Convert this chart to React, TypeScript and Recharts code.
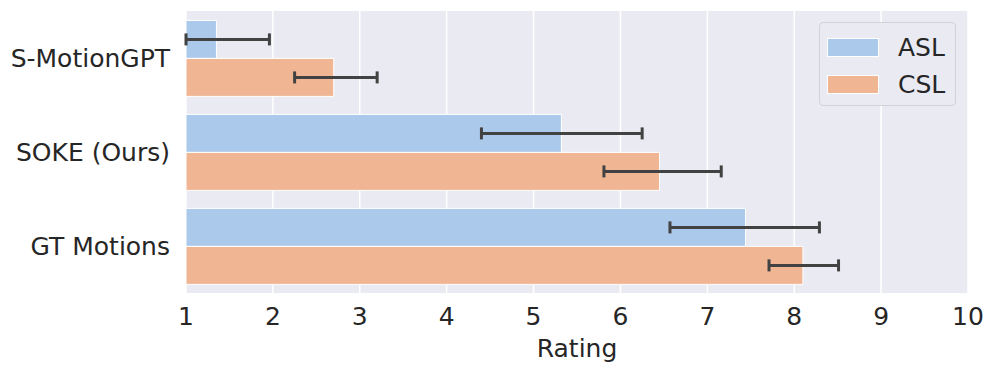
import { BarChart, Bar, XAxis, YAxis, CartesianGrid, ErrorBar } from "recharts";

const categories = ["S-MotionGPT", "SOKE (Ours)", "GT Motions"];
const aslMean = [1.35, 5.32, 7.44];
const aslLow = [1.0, 4.4, 6.57];
const aslHigh = [1.96, 6.25, 8.29];
const cslMean = [2.7, 6.45, 8.1];
const cslLow = [2.25, 5.81, 7.71];
const cslHigh = [3.2, 7.16, 8.51];
const xTicks = [1, 2, 3, 4, 5, 6, 7, 8, 9, 10];

const ASL_COLOR = "#abc9eb";
const CSL_COLOR = "#f0b694";
const FONT = "DejaVu Sans";

const data = categories.map((name, i) => ({
  name,
  asl: aslMean[i],
  aslErr: [aslMean[i] - aslLow[i], aslHigh[i] - aslMean[i]],
  csl: cslMean[i],
  cslErr: [cslMean[i] - cslLow[i], cslHigh[i] - cslMean[i]],
}));

const legendItems = [
  { label: "ASL", color: ASL_COLOR },
  { label: "CSL", color: CSL_COLOR },
];

// legend drawn as an overlay so it doesn't eat into the plot area
function LegendBox() {
  return (
    <div
      style={{
        position: "absolute",
        left: 819,
        top: 22,
        width: 137,
        height: 84,
        boxSizing: "border-box",
        background: "#eaeaf2",
        border: "1px solid #d2d2d8",
        borderRadius: 4,
        paddingTop: 6,
        fontFamily: FONT,
        fontSize: 25,
        color: "#262626",
      }}
    >
      {legendItems.map((it) => (
        <div key={it.label} style={{ display: "flex", alignItems: "center", height: 37 }}>
          <div
            style={{
              width: 50,
              height: 17,
              marginLeft: 8,
              marginRight: 20,
              background: it.color,
              outline: "1px solid #fff",
            }}
          />
          <span style={{ lineHeight: "25px" }}>{it.label}</span>
        </div>
      ))}
    </div>
  );
}

export default function App() {
  return (
    <div style={{ position: "absolute", left: 0, top: 0, width: 996, height: 375, background: "#fff" }}>
      <BarChart
        width={996}
        height={375}
        data={data}
        layout="vertical"
        margin={{ top: 11, right: 28, bottom: 42, left: 0 }}
        barCategoryGap="10%"
        barGap={0}
      >
        <CartesianGrid horizontal={false} stroke="#ffffff" strokeWidth={1.5} fill="#eaeaf2" />
        <XAxis
          type="number"
          domain={[1, 10]}
          ticks={xTicks}
          allowDataOverflow
          axisLine={false}
          tickLine={false}
          tickMargin={8}
          height={40}
          tick={{ fill: "#262626", fontSize: 25, fontFamily: FONT }}
          label={{
            value: "Rating",
            position: "bottom",
            offset: 6,
            fill: "#262626",
            fontSize: 25,
            fontFamily: FONT,
          }}
        />
        <YAxis
          type="category"
          dataKey="name"
          width={186}
          axisLine={false}
          tickLine={false}
          tickMargin={10}
          tick={{ fill: "#262626", fontSize: 25, fontFamily: FONT }}
        />
        <Bar dataKey="asl" name="ASL" fill={ASL_COLOR} stroke="#fff" strokeWidth={1} isAnimationActive={false}>
          <ErrorBar dataKey="aslErr" direction="x" stroke="#424242" strokeWidth={3} width={6} />
        </Bar>
        <Bar dataKey="csl" name="CSL" fill={CSL_COLOR} stroke="#fff" strokeWidth={1} isAnimationActive={false}>
          <ErrorBar dataKey="cslErr" direction="x" stroke="#424242" strokeWidth={3} width={6} />
        </Bar>
      </BarChart>
      <LegendBox />
    </div>
  );
}
